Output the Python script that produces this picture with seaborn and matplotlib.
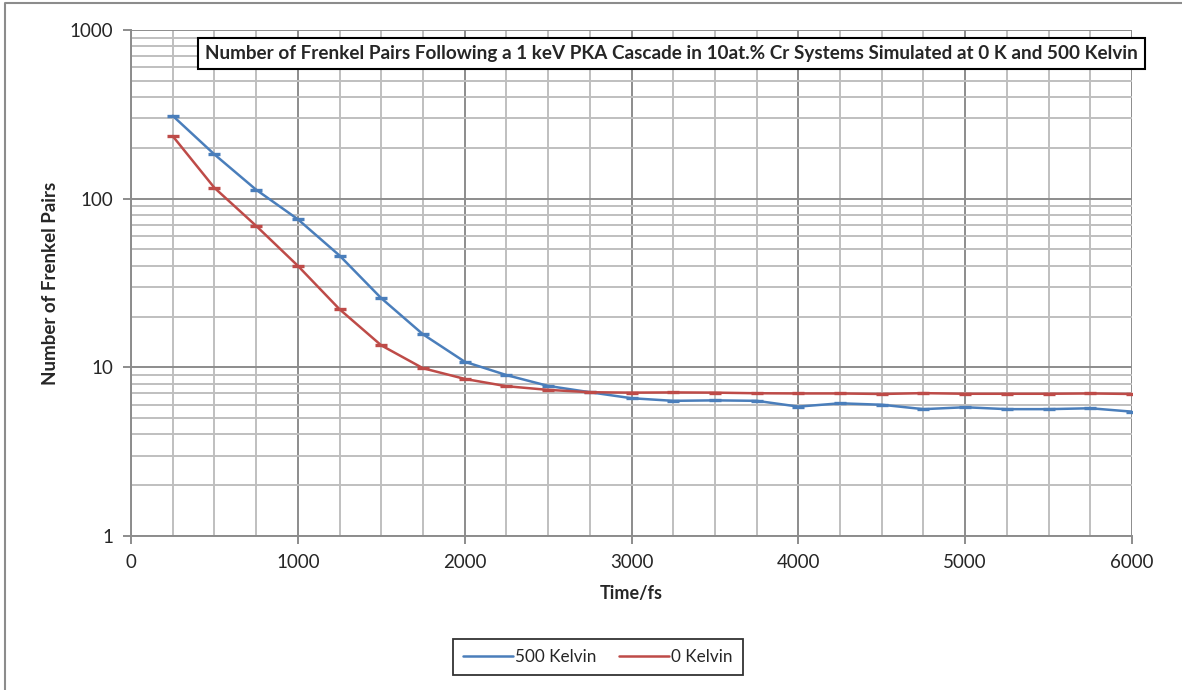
"""Frenkel pair count after a 1 keV PKA cascade, 0 K vs 500 K."""

import matplotlib

matplotlib.use("Agg")

import matplotlib.pyplot as plt
import pandas as pd
import seaborn as sns
from matplotlib.lines import Line2D
from matplotlib.ticker import FixedLocator, LogLocator, NullFormatter

time_fs = [250, 500, 750, 1000, 1250, 1500, 1750, 2000, 2250, 2500, 2750, 3000,
           3250, 3500, 3750, 4000, 4250, 4500, 4750, 5000, 5250, 5500, 5750, 6000]
pairs_500k = [310, 183, 113, 75.5, 46, 25.7, 15.7, 10.8, 9.0, 7.76, 7.12, 6.56,
              6.33, 6.37, 6.33, 5.85, 6.12, 6.0, 5.65, 5.8, 5.65, 5.65, 5.72, 5.46]
pairs_0k = [235, 116, 69, 40, 22.1, 13.5, 9.88, 8.54, 7.73, 7.35, 7.12, 7.08,
            7.1, 7.08, 7.02, 7.0, 7.0, 6.95, 7.03, 6.97, 6.97, 6.97, 7.0, 6.95]
series_names = ["500 Kelvin", "0 Kelvin"]
title = ("Number of Frenkel Pairs Following a 1 keV PKA Cascade in 10at.% Cr "
         "Systems Simulated at 0 K and 500 Kelvin")

colors = {"500 Kelvin": "#4a7ebb", "0 Kelvin": "#be4b48"}

df = pd.concat(
    [
        pd.DataFrame({"time": time_fs, "pairs": pairs_500k, "series": series_names[0]}),
        pd.DataFrame({"time": time_fs, "pairs": pairs_0k, "series": series_names[1]}),
    ],
    ignore_index=True,
)

sns.set_theme(style="white")
plt.rcParams["font.family"] = ["Lato", "DejaVu Sans"]

fig = plt.figure(figsize=(11.82, 6.90), dpi=100)
ax = fig.add_axes([131 / 1182, 1 - 536 / 690, 1001 / 1182, 506 / 690])

sns.lineplot(data=df, x="time", y="pairs", hue="series", palette=colors,
             linewidth=1.8, marker="_", markersize=8, markeredgewidth=2.4,
             legend=False, ax=ax, zorder=3)
# seaborn paints marker edges white; Excel caps share the line colour
for line in ax.lines:
    line.set_markeredgecolor(line.get_color())

ax.set_yscale("log")
ax.set_xlim(0, 6000)
ax.set_ylim(1, 1000)

# Excel-style grid: majors darker, minors lighter
ax.xaxis.set_major_locator(FixedLocator(range(0, 6001, 1000)))
ax.xaxis.set_minor_locator(FixedLocator(range(0, 6001, 250)))
ax.yaxis.set_major_locator(LogLocator(base=10, numticks=10))
ax.yaxis.set_minor_locator(LogLocator(base=10, subs=range(2, 10), numticks=20))
ax.yaxis.set_minor_formatter(NullFormatter())
ax.yaxis.set_major_formatter(plt.FuncFormatter(lambda v, _: f"{v:g}"))
ax.grid(which="major", color="#8c8c8c", linewidth=1.4)
ax.grid(which="minor", color="#bfbfbf", linewidth=1.4)
ax.set_axisbelow(True)

for side in ("top", "right"):
    ax.spines[side].set_visible(False)
for side in ("left", "bottom"):
    ax.spines[side].set_color("#8c8c8c")
    ax.spines[side].set_linewidth(1.4)

ax.tick_params(which="major", direction="out", length=6, width=1.4,
               color="#8c8c8c", labelsize=13.5, pad=7, left=True, bottom=True)
ax.tick_params(which="minor", length=0)

ax.set_xlabel("Time/fs", fontsize=13, fontweight="bold", labelpad=10)
ax.set_ylabel("Number of Frenkel Pairs", fontsize=13.5, fontweight="bold")
ax.yaxis.set_label_coords(-72 / 1001, 0.5)

fig.text((197 + 1146) / 2 / 1182, 1 - 53.5 / 690, title, fontsize=13.55,
         fontweight="bold", ha="center", va="center", zorder=5,
         bbox=dict(boxstyle="square,pad=0.38", facecolor="white", edgecolor="black",
                   linewidth=1.5))

handles = [Line2D([], [], color=colors[name], linewidth=1.8) for name in series_names]
leg = fig.legend(handles, series_names, loc="center", ncol=2,
                 bbox_to_anchor=(598 / 1182, 1 - 657 / 690), frameon=True,
                 fontsize=12.3, handlelength=2.9, handletextpad=0.15,
                 columnspacing=1.3, borderpad=0.6, fancybox=False)
leg.get_frame().set_edgecolor("black")
leg.get_frame().set_linewidth(1.3)

# outer chart border (top and left edges visible)
fig.add_artist(Line2D([5 / 1182, 5 / 1182, 1], [0, 1 - 3 / 690, 1 - 3 / 690],
                      transform=fig.transFigure, color="#8c8c8c", linewidth=1.5))

fig.savefig("out.png", dpi=100)
